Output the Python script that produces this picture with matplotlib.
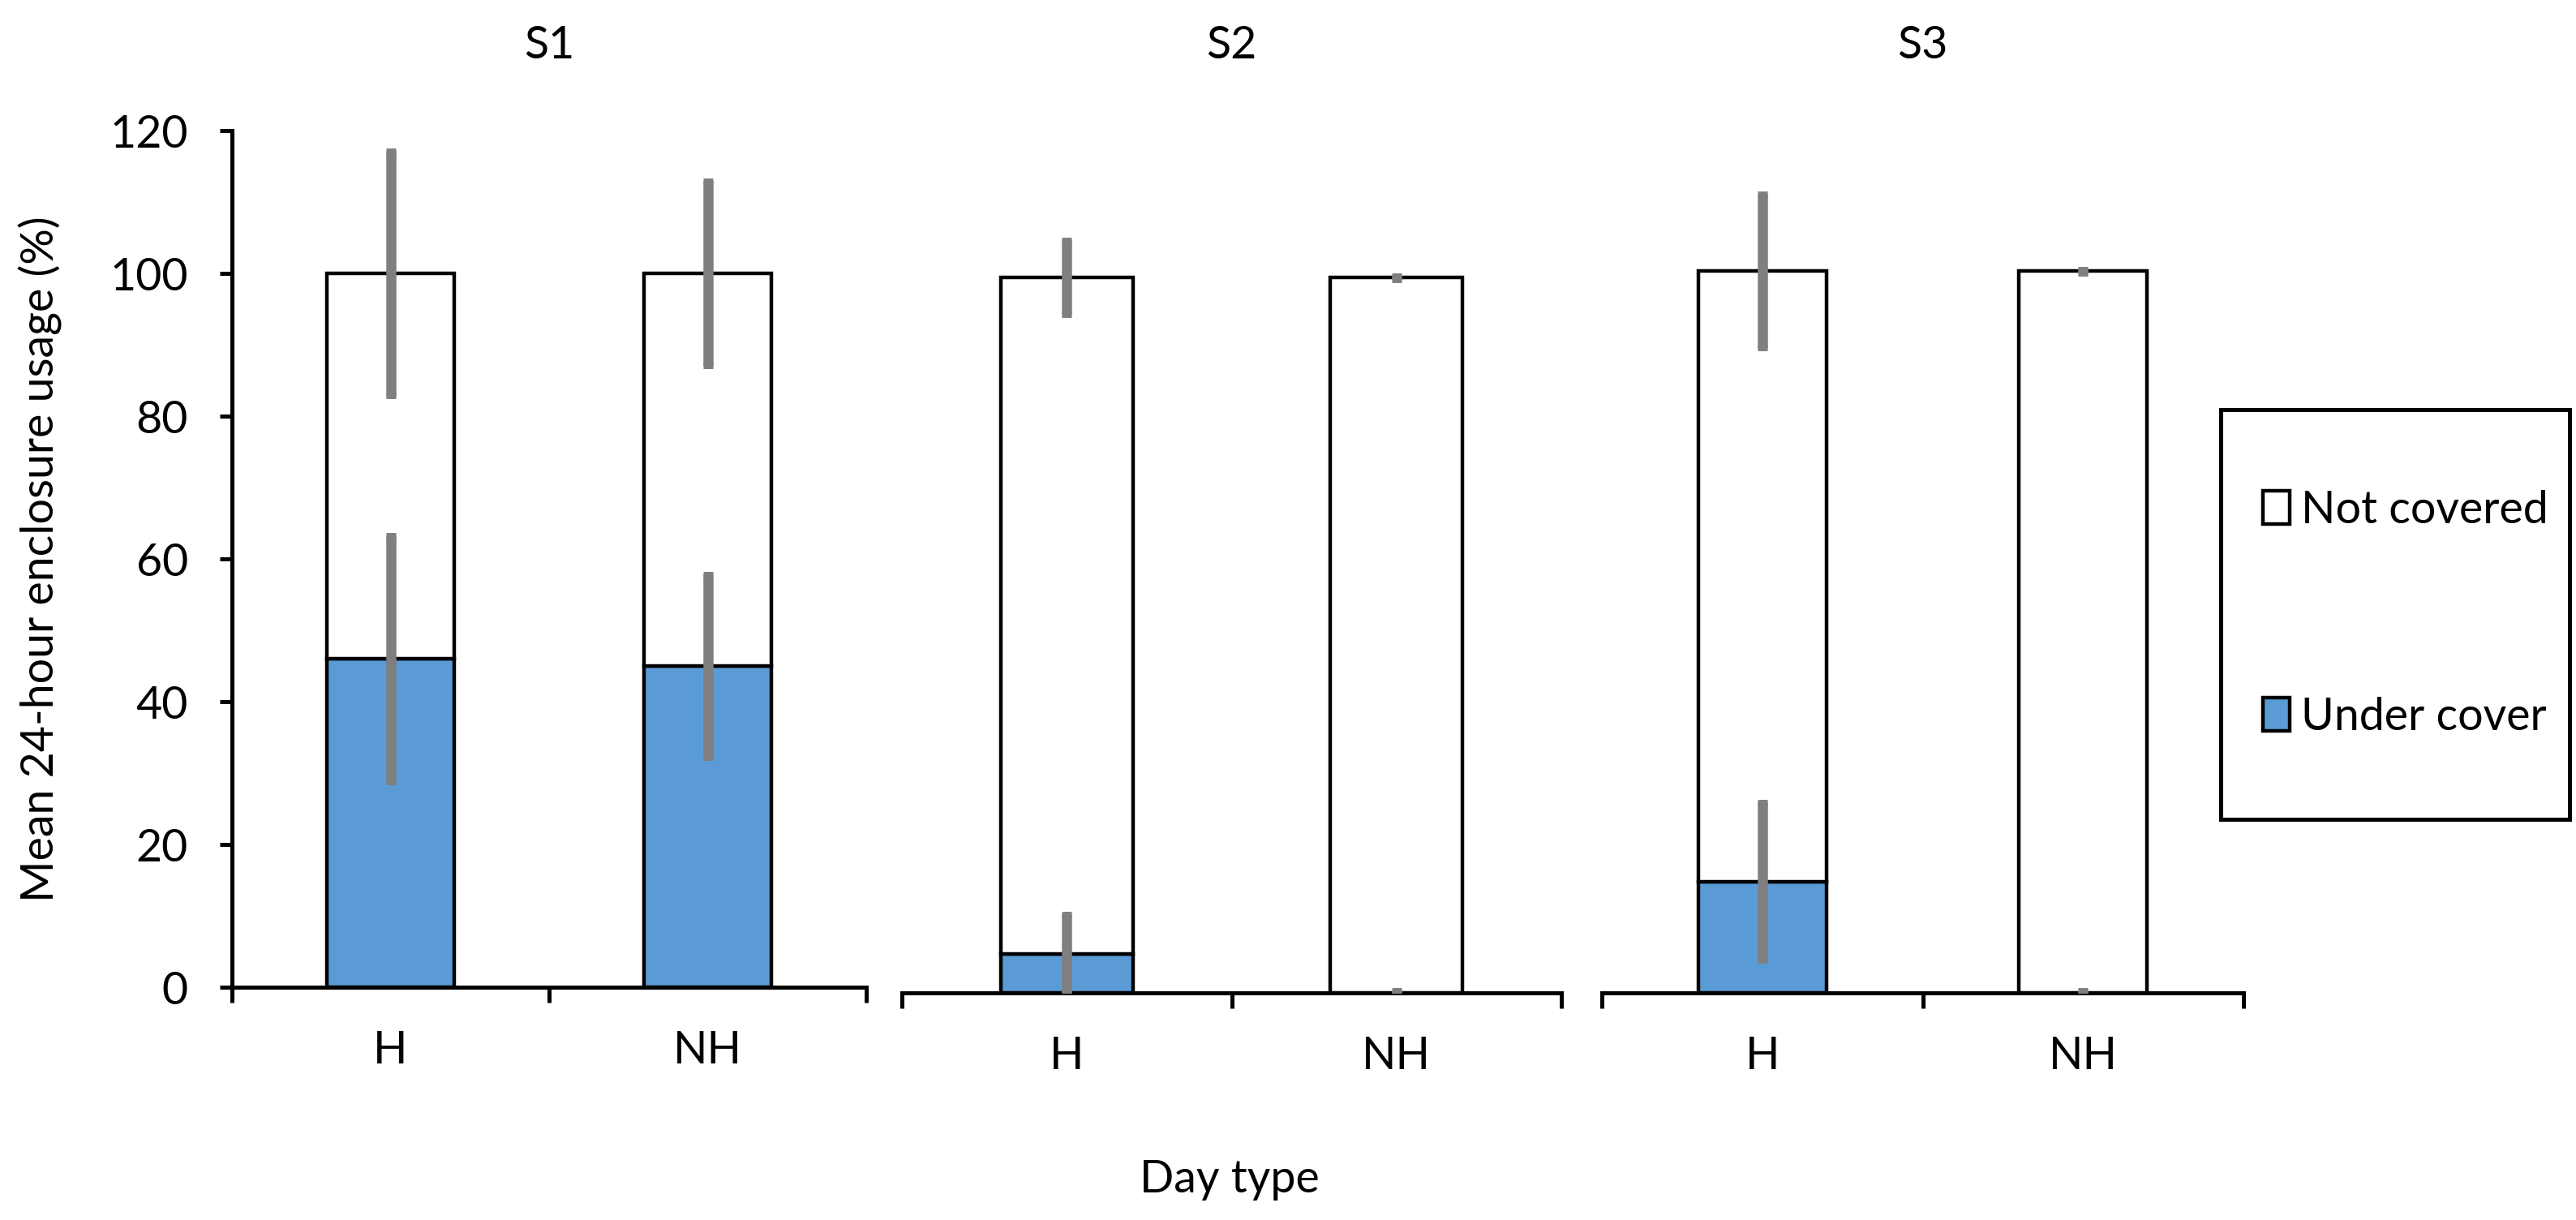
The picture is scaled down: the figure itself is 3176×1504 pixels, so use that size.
import matplotlib
matplotlib.use('Agg')
import matplotlib.pyplot as plt
from matplotlib.patches import Rectangle, Patch

plt.rcParams['font.family'] = ['Lato', 'DejaVu Sans']

# ---- data ----
sites = ['S1', 'S2', 'S3']
day_types = ['H', 'NH']
series_labels = ['Not covered', 'Under cover']

s1_under = [46.0, 45.0]
s1_not = [54.0, 55.0]
s1_under_err = [17.3, 12.8]
s1_not_err = [17.2, 13.0]

s2_under = [5.5, 0.0]
s2_not = [94.7, 100.2]
s2_under_err = [5.5, 0.3]
s2_not_err = [5.2, 0.3]

s3_under = [15.6, 0.0]
s3_not = [85.5, 101.1]
s3_under_err = [11.1, 0.3]
s3_not_err = [10.8, 0.3]

y_ticks = [0, 20, 40, 60, 80, 100, 120]
x_label = 'Day type'
y_label = 'Mean 24-hour enclosure usage (%)'

# ---- styles ----
W, H = 3176, 1504
DPI = 200
BLUE = '#5B9BD5'
GREY = '#7F7F7F'
FS = 20
EDGE_LW = 1.6
SPINE_LW = 1.8

fig = plt.figure(figsize=(W / DPI, H / DPI), dpi=DPI)

def fx(px):
    return px / W

def fy(py):
    return 1 - py / H

# axes rectangles in pixels: left, right, bottom(y), top(y)
panels = [
    (286, 1068, 1217, 161),
    (1112, 1925, 1224, 168),
    (1975, 2766, 1224, 168),
]
data = [
    (s1_under, s1_not, s1_under_err, s1_not_err),
    (s2_under, s2_not, s2_under_err, s2_not_err),
    (s3_under, s3_not, s3_under_err, s3_not_err),
]

x = list(range(len(day_types)))
bw = 0.40
axes = []
for i, (site, (l, r, b, t), (uc, nc, uce, nce)) in enumerate(zip(sites, panels, data)):
    ax = fig.add_axes([fx(l), fy(b), fx(r - l), (b - t) / H])
    axes.append(ax)
    ax.bar(x, uc, bw, color=BLUE, edgecolor='black', linewidth=EDGE_LW)
    ax.bar(x, nc, bw, bottom=uc, color='white', edgecolor='black', linewidth=EDGE_LW)
    totals = [u + n for u, n in zip(uc, nc)]
    ax.errorbar(x, uc, yerr=uce, fmt='none', ecolor=GREY, elinewidth=4.5,
                capsize=2.2, capthick=2.5, zorder=3)
    ax.errorbar(x, totals, yerr=nce, fmt='none', ecolor=GREY, elinewidth=4.5,
                capsize=2.2, capthick=2.5, zorder=3)
    ax.set_xlim(-0.5, 1.5)
    ax.set_ylim(0, 120)
    ax.set_xticks(x)
    ax.set_xticklabels(day_types, fontsize=FS)
    ax.set_xticks([-0.5, 0.5, 1.5], minor=True)
    ax.tick_params(axis='x', which='major', length=0, pad=19)
    ax.tick_params(axis='x', which='minor', length=7, width=SPINE_LW, direction='out')
    for s in ['top', 'right']:
        ax.spines[s].set_visible(False)
    ax.spines['bottom'].set_linewidth(SPINE_LW)
    if i == 0:
        ax.set_yticks(y_ticks)
        ax.set_yticklabels([str(v) for v in y_ticks], fontsize=FS)
        ax.tick_params(axis='y', length=5.5, width=SPINE_LW, pad=14)
        ax.spines['left'].set_linewidth(SPINE_LW)
    else:
        ax.spines['left'].set_visible(False)
        ax.set_yticks([])
    fig.text(fx((l + r) / 2), fy(57), site, fontsize=FS, ha='center', va='center')

fig.text(fx(1516), fy(1455), x_label, fontsize=FS, ha='center', va='center')
fig.text(fx(50), fy(689), y_label, fontsize=FS, ha='center', va='center', rotation=90)

# legend frame
fig.patches.append(Rectangle((fx(2738), fy(1010)), fx(3168 - 2738), (1010 - 505) / H,
                             transform=fig.transFigure, fill=False,
                             edgecolor='black', linewidth=SPINE_LW))
handles = [Patch(facecolor='white', edgecolor='black', linewidth=EDGE_LW),
           Patch(facecolor=BLUE, edgecolor='black', linewidth=EDGE_LW)]
fig.legend(handles, series_labels, loc='upper left',
           bbox_to_anchor=(fx(2790), fy(604)), frameon=False, fontsize=FS,
           handlelength=0.6, handleheight=0.75, handletextpad=0.25,
           labelspacing=3.67, borderpad=0, borderaxespad=0)

fig.savefig('out.png', dpi=DPI)
